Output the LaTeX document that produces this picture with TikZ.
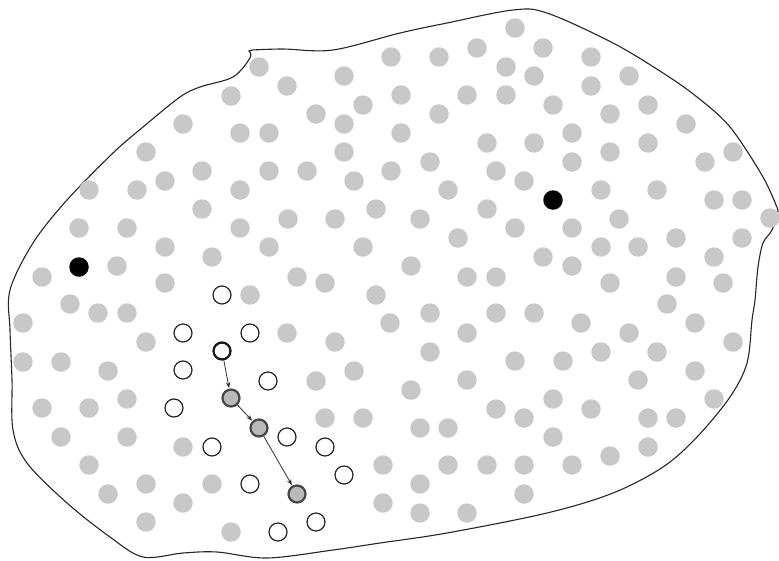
\documentclass[tikz,border=0pt]{standalone}
\usetikzlibrary{arrows.meta}
\definecolor{dotgray}{RGB}{200,200,200}
\definecolor{ringgray}{RGB}{70,70,70}
\definecolor{inngray}{RGB}{185,185,185}
\begin{document}
\begin{tikzpicture}[x=1pt,y=-1pt,
  gdot/.style={circle,fill=dotgray,inner sep=0pt,minimum size=19.5pt},
  bdot/.style={circle,fill=black,inner sep=0pt,minimum size=19.5pt},
  odot/.style={circle,draw=black!85,line width=1.2pt,fill=white,inner sep=0pt,minimum size=18pt},
  sdot/.style={circle,draw=black!90,line width=2.3pt,fill=white,inner sep=0pt,minimum size=17pt},
  pdot/.style={circle,draw=ringgray,line width=2.2pt,fill=inngray,inner sep=0pt,minimum size=17pt},
  outline/.style={draw=black!85,line width=1.1pt},
  stepline/.style={draw=black!80,line width=0.8pt,-{Stealth[length=6pt,width=4.5pt]},shorten >=0.5pt}]
\useasboundingbox (0,0) rectangle (779,560);
% outline
\path[outline] plot[smooth,tension=0.55] coordinates {(252,50) (283,49) (333,50) (400,33) (447,23) (513,10) (547,13) (613,43) (663,73) (697,97) (730,127) (763,177) (778,210)}
 -- plot[smooth,tension=0.55] coordinates {(778,211) (772,230) (763,243) (758,267) (755,300) (752,320) (747,363) (730,397) (697,437) (663,467) (613,493) (547,513) (447,533) (380,543) (333,550) (267,558) (217,552) (183,553) (143,557) (110,537) (67,503) (27,463) (13,430) (12,380) (10,330) (10,290) (33,243) (67,200) (113,153) (143,127) (180,97) (200,87) (233,77) (250,58) (249,51)}
 -- cycle;
% gray dots
\foreach \x/\y [count=\i] in {259/67,287/86,231/96,344/76,391/57,363/105,316/114,344/124,401/95,183/124,240/133,269/133,344/152,401/133,146/152,202/171,269/171,307/171,354/181,391/171,165/181,89/190,137/190,240/190,202/209,288/219,335/219,376/209,79/228,127/228,240/228,165/247,269/247,363/247,212/257,117/266,42/277,165/283,297/277,325/283,
515/28,477/48,543/48,439/57,591/57,506/67,534/76,629/76,591/86,467/95,506/95,553/105,648/105,439/114,610/114,686/124,487/143,534/143,572/133,648/143,610/152,572/162,705/162,733/152,430/162,496/171,524/181,448/190,601/190,657/190,714/200,742/200,487/209,420/219,619/219,770/218,458/238,515/228,572/228,601/247,638/247,676/238,742/238,714/257,411/266,543/257,572/266,467/277,496/277,610/283,676/277,723/283,
250/295,376/295,70/304,98/313,127/313,23/323,390/323,287/333,146/342,335/342,23/362,61/362,108/371,316/381,354/371,127/399,42/408,89/408,325/418,363/418,61/437,127/437,183/447,383/465,89/465,146/484,212/484,108/494,183/503,383/503,146/522,231/532,
430/313,496/313,534/313,581/323,667/304,695/323,467/333,629/333,733/342,430/352,515/361,563/361,601/352,657/352,695/371,467/380,638/380,411/390,553/399,496/409,524/418,591/409,714/399,648/418,676/418,420/428,448/428,553/437,648/447,610/456,448/465,487/465,524/465,572/465,420/484,524/494,420/513,467/513}
  \node[gdot] (g\i) at (\x,\y) {};
% black dots
\node[bdot] (b1) at (79,267) {};
\node[bdot] (b2) at (553,200) {};
% open circles
\foreach \x/\y [count=\i] in {222/295,183/333,250/333,183/370,268/381,174/408,212/447,287/437,325/447,344/475,250/484,278/532,316/522}
  \node[odot] (o\i) at (\x,\y) {};
% path
\node[sdot] (s) at (222,351) {};
\node[pdot] (p1) at (231,398) {};
\node[pdot] (p2) at (259,428) {};
\node[pdot] (p3) at (297,494) {};
\draw[stepline] (s) -- (p1);
\draw[stepline] (p1) -- (p2);
\draw[stepline] (p2) -- (p3);
\end{tikzpicture}
\end{document}
